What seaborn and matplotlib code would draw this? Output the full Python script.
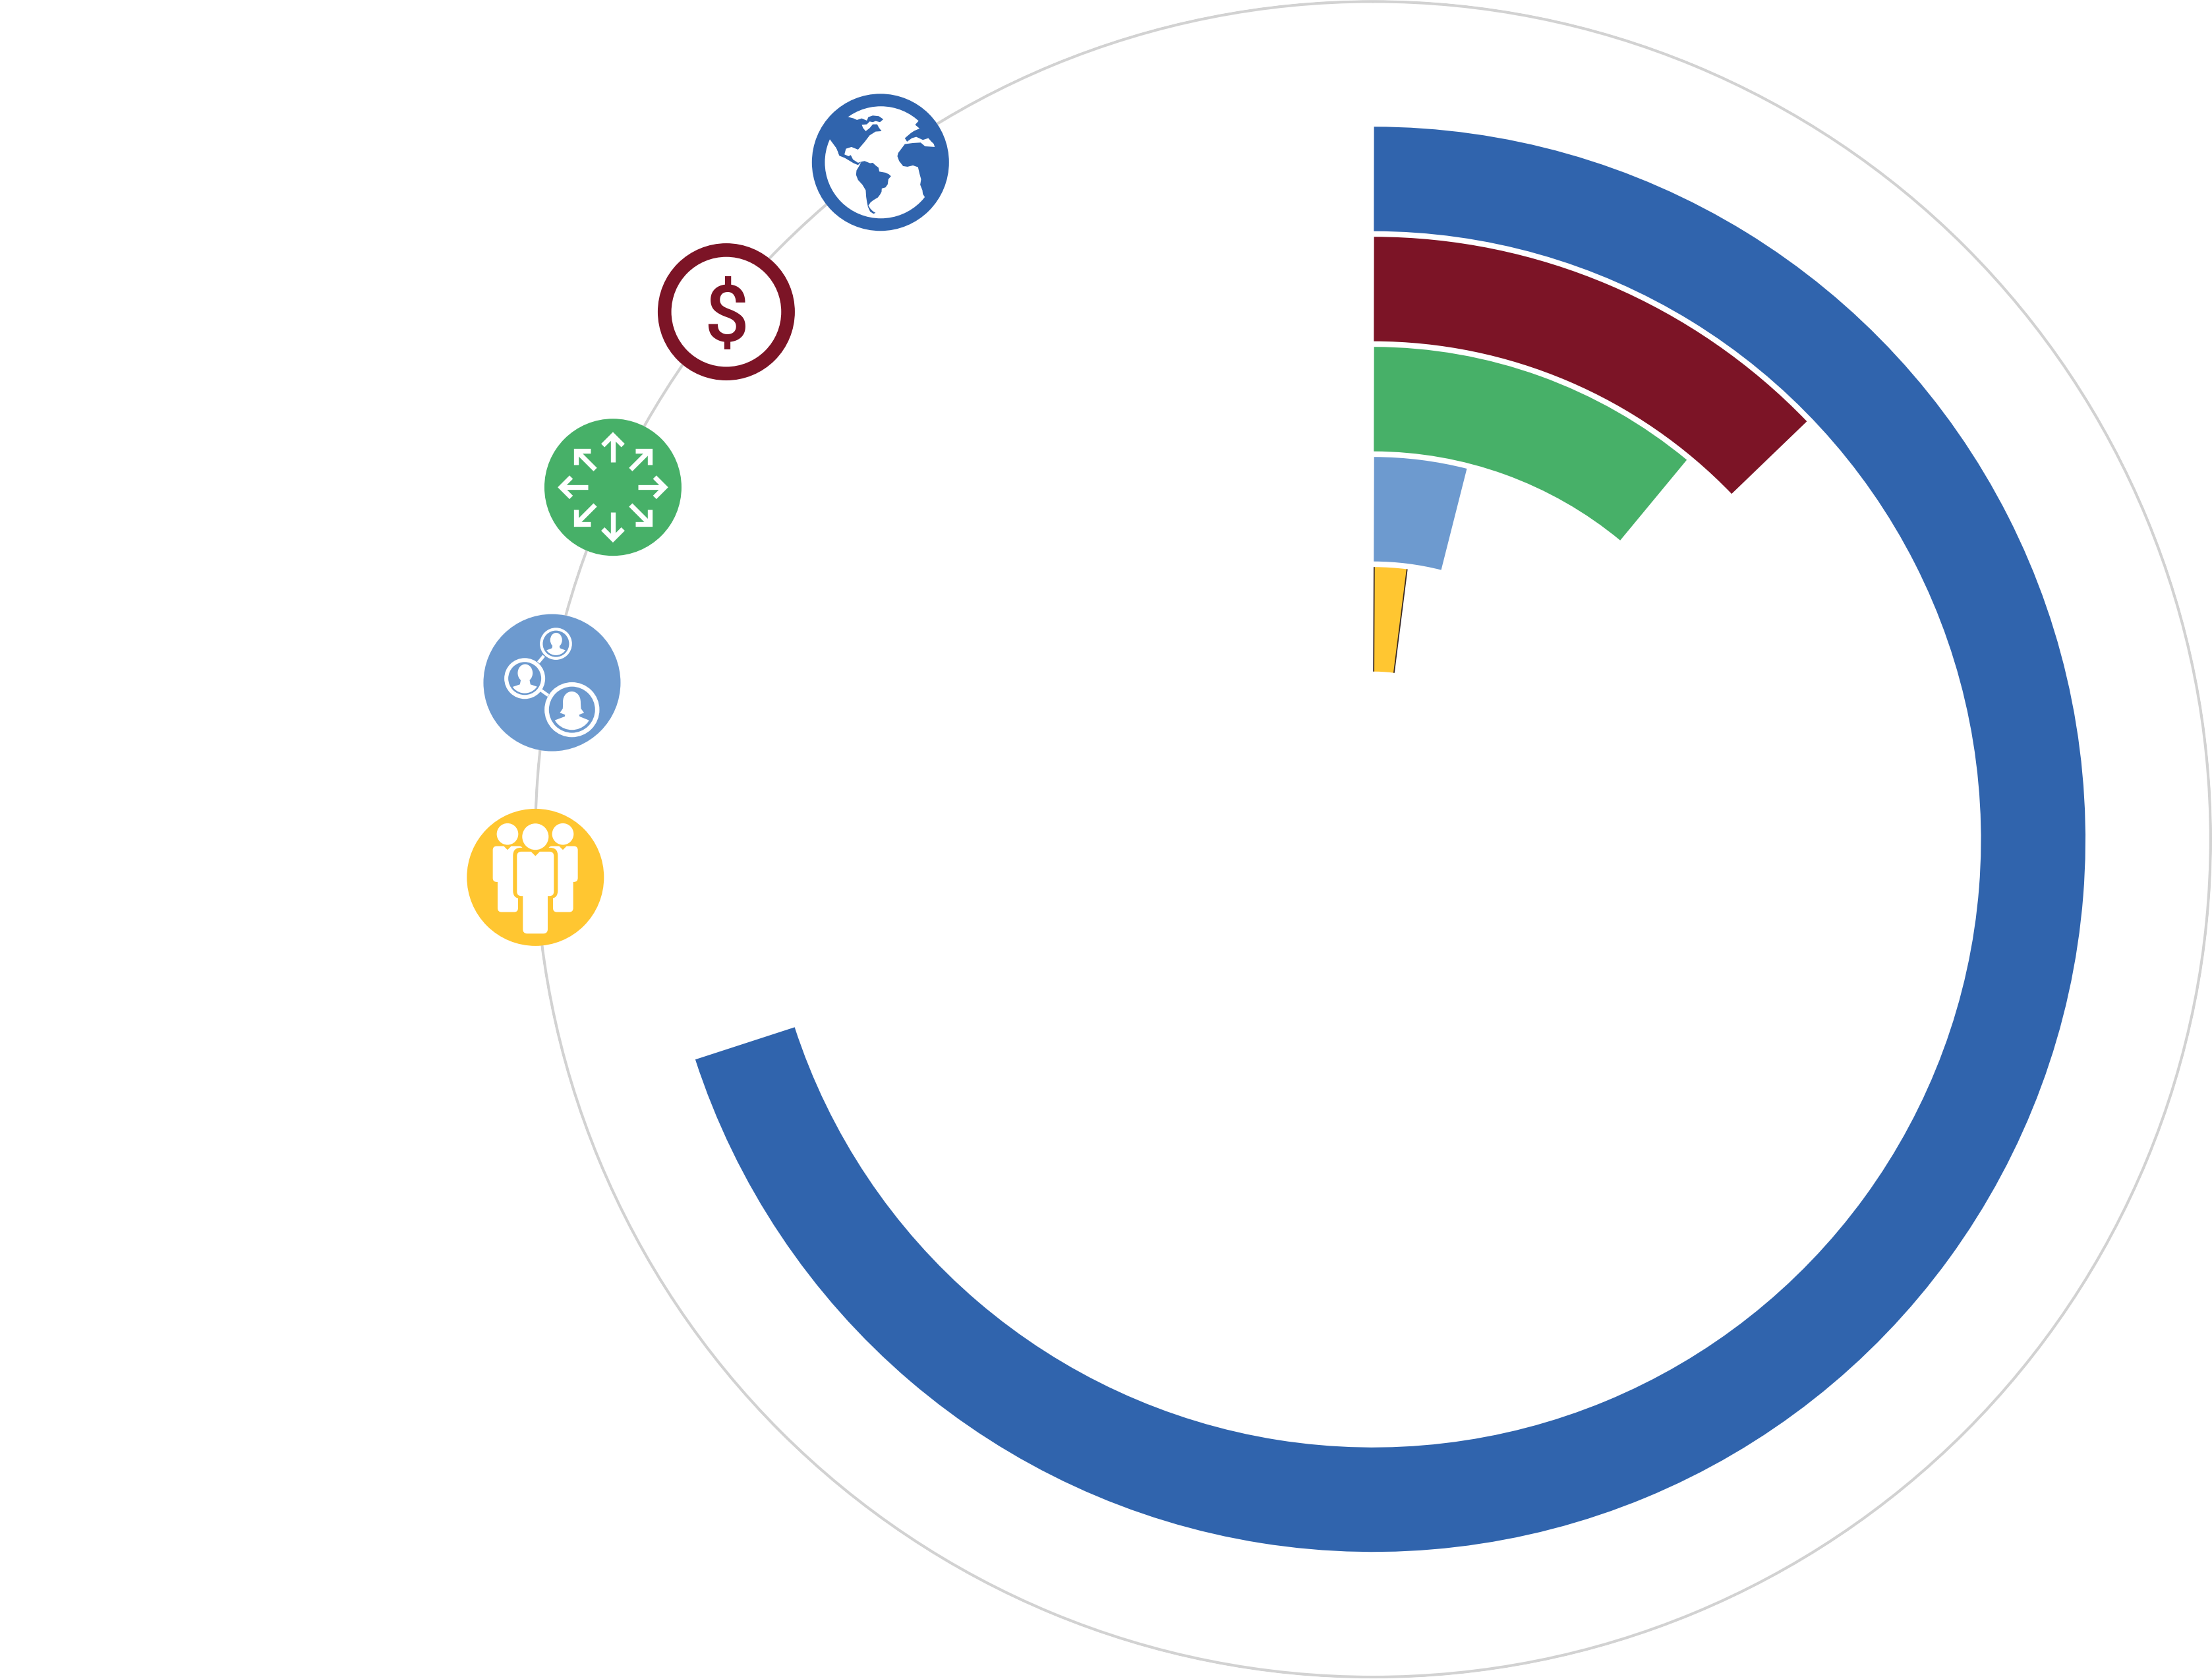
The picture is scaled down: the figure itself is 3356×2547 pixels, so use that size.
import numpy as np
import pandas as pd
import matplotlib.pyplot as plt
import seaborn as sns
from matplotlib.patches import Circle, Ellipse, FancyBboxPatch, Polygon

# -------- Data --------
categories = ["World", "Money", "Growth", "Network", "Team"]
shares = [70.0, 12.8, 11.0, 3.95, 2.0]
outer_radius = [1081, 914, 747, 580, 413]
band_width = 158.5
colors = ["#3064AD", "#7C1426", "#47B068", "#6D9ACF", "#FFC631"]

icon_angle = [323.96, 309.2, 294.85, 280.8, 267.4]
icon_radius = [1270, 1266, 1270.7, 1268, 1272]

W, H = 3356, 2547
DPI = 200
CX, CY = 2083, 1273.2
RMAX = 1273
WHITE = "#FFFFFF"

sns.set_theme(style="white")
plt.rcParams["font.family"] = ["Roboto", "DejaVu Sans"]

fig = plt.figure(figsize=(W / DPI, H / DPI), dpi=DPI, facecolor=WHITE)

# -------- Polar rings --------
ax = fig.add_axes(
    [(CX - RMAX) / W, 1 - (CY + RMAX) / H, 2 * RMAX / W, 2 * RMAX / H],
    projection="polar",
)
ax.set_theta_zero_location("N")
ax.set_theta_direction(-1)
ax.set_ylim(0, RMAX)
ax.spines["polar"].set_visible(False)
ax.set_facecolor("none")
ax.xaxis.grid(False)
ax.set_xticks([])
ax.set_yticks([1271])
ax.set_yticklabels([])
ax.yaxis.grid(True, color="#D2D2D2", linewidth=1.6)

sweep = np.deg2rad(np.array(shares) * 3.6)
for out_r, sw, col in zip(outer_radius, sweep, colors):
    start = 1.5 / (out_r - band_width / 2)  # bands start just right of the vertical
    ax.bar(start, band_width, width=sw - start, bottom=out_r - band_width, align="edge",
           color=col, linewidth=0)

# dark hairlines on the straight sides of the smallest band
for th in (1.5 / (outer_radius[-1] - band_width / 2), sweep[-1]):
    ax.plot([th, th], [outer_radius[-1] - band_width, outer_radius[-1]],
            color="#3A2A25", linewidth=0.65, solid_capstyle="butt")

# icon discs
icons = pd.DataFrame({
    "name": categories,
    "theta": np.deg2rad(icon_angle),
    "r": icon_radius,
})
disc_size = (208 * 72 / DPI) ** 2
sns.scatterplot(
    data=icons, x="theta", y="r", hue="name", hue_order=categories,
    palette=colors, s=disc_size, linewidth=0, legend=False, clip_on=False,
    zorder=5, ax=ax,
)
ax.set_xlabel("")
ax.set_ylabel("")

# -------- Icon glyphs --------
ov = fig.add_axes([0, 0, 1, 1], facecolor="none")
ov.set_xlim(0, W)
ov.set_ylim(H, 0)
ov.axis("off")


def icon_center(i):
    disp = ax.transData.transform((icons.theta[i], icons.r[i]))
    return ov.transData.inverted().transform(disp)


class Glyph:
    def __init__(self, i, ref):
        self.c = icon_center(i)
        self.ref = np.array(ref, dtype=float)

    def p(self, pts):
        return (np.atleast_2d(np.array(pts, dtype=float)) - self.ref) / 3 + self.c

    def poly(self, pts, color=WHITE, clip=None):
        patch = Polygon(self.p(pts), closed=True, facecolor=color, edgecolor="none")
        ov.add_patch(patch)
        if clip is not None:
            patch.set_clip_path(Circle(self.p(clip[:2])[0], clip[2] / 3, transform=ov.transData))

    def disc(self, x, y, r, color=WHITE):
        ov.add_patch(Circle(self.p([x, y])[0], r / 3, facecolor=color, edgecolor="none"))

    def oval(self, x, y, rx, ry, color=WHITE):
        ov.add_patch(Ellipse(self.p([x, y])[0], 2 * rx / 3, 2 * ry / 3, facecolor=color, edgecolor="none"))

    def ring(self, x, y, r, width, color=WHITE):
        ov.add_patch(Circle(self.p([x, y])[0], (r - width / 2) / 3, facecolor="none",
                            edgecolor=color, linewidth=width / 3 * 72 / DPI))

    def line(self, pts, width, color=WHITE):
        q = self.p(pts)
        ov.plot(q[:, 0], q[:, 1], color=color, linewidth=width / 3 * 72 / DPI,
                solid_capstyle="butt", solid_joinstyle="miter")

    def box(self, x0, y0, x1, y1, rad, color=WHITE):
        a = self.p([x0, y0])[0]
        ov.add_patch(FancyBboxPatch(a, (x1 - x0) / 3, (y1 - y0) / 3,
                                    boxstyle=f"round,pad=0,rounding_size={rad / 3}",
                                    facecolor=color, edgecolor="none"))


# globe
g = Glyph(0, (407, 378))
land = colors[0]
g.disc(409, 378, 255)
g.poly([(262, 172), (285, 178), (300, 185), (322, 178), (345, 188), (352, 172), (372, 165),
        (400, 168), (420, 182), (405, 195), (385, 190), (372, 195), (358, 192), (345, 205),
        (322, 207), (328, 222), (340, 236), (358, 222), (372, 205), (392, 205), (400, 220),
        (412, 236), (385, 238), (358, 255), (335, 285), (305, 320), (275, 308), (250, 316),
        (243, 342), (262, 350), (272, 345), (282, 365), (305, 380), (320, 375), (305, 390),
        (285, 382), (265, 370), (245, 358), (220, 348), (205, 312), (195, 298), (178, 275),
        (150, 230), (190, 170)], land)
g.poly([(190, 296), (205, 312), (215, 335), (200, 325)], WHITE)
g.poly([(320, 375), (335, 372), (360, 382), (372, 380), (385, 392), (398, 402), (402, 420),
        (430, 425), (445, 432), (455, 441), (443, 455), (440, 478), (430, 492), (413, 497),
        (412, 512), (405, 525), (395, 538), (375, 550), (362, 560), (352, 575), (362, 590),
        (372, 600), (385, 608), (375, 612), (360, 602), (350, 580), (345, 555), (342, 535),
        (340, 505), (325, 480), (305, 458), (296, 435), (298, 415), (310, 395)], land)
g.poly([(580, 190), (565, 207), (585, 224), (560, 235), (545, 245), (518, 268), (528, 284),
        (550, 268), (570, 262), (600, 276), (625, 268), (640, 285), (655, 298), (655, 308),
        (610, 305), (590, 288), (555, 290), (518, 295), (488, 335), (484, 350), (492, 372),
        (510, 395), (530, 398), (555, 392), (578, 400), (585, 430), (592, 455), (588, 480),
        (598, 505), (600, 522), (610, 538), (650, 500), (700, 380), (680, 260), (620, 170)], land)

# dollar
g = Glyph(1, (394, 370))
g.disc(394, 370, 250)
c = g.p([395, 370])[0]
ov.text(c[0], c[1], "$", color=colors[1], fontsize=43, fontweight="medium",
        ha="center", va="center_baseline")

# arrows
g = Glyph(2, (390, 357))
for k in range(8):
    a = k * np.pi / 4
    d = np.array([np.sin(a), -np.cos(a)])
    n = np.array([d[1], -d[0]])
    o = np.array([390, 357])
    tip = o + d * 236
    g.line([o + d * 114, tip - d * 4], 22)
    g.line([tip - d * 46 + n * 46, tip, tip - d * 46 - n * 46], 22)

# network
g = Glyph(3, (382, 377))
g.line([(345, 255), (320, 285)], 14)
g.line([(330, 410), (365, 435)], 14)
g.ring(400, 200, 73, 13)
g.ring(258, 358, 93, 18)
g.ring(473, 500, 125, 20)
g.oval(401, 183, 27, 33)
g.poly([(385, 205), (415, 205), (418, 220), (447, 231), (447, 260), (353, 260), (353, 231),
        (382, 220)], clip=(400, 200, 52))
g.oval(260, 333, 34, 40)
g.poly([(240, 365), (280, 365), (284, 385), (320, 397), (320, 430), (200, 430), (200, 397),
        (236, 385)], clip=(258, 358, 67))
g.oval(472, 462, 40, 45)
g.poly([(433, 462), (512, 462), (514, 495), (528, 514), (505, 523), (508, 531), (550, 548),
        (550, 600), (395, 600), (395, 548), (440, 531), (442, 523), (418, 514), (431, 495)],
       clip=(473, 500, 92))

# team
g = Glyph(4, (367, 395))
yel = colors[4]
g.disc(240, 198, 49)
g.disc(492, 198, 49)
for x0, x1, lx0, lx1 in [(173, 310, 195, 288), (425, 560, 447, 539)]:
    g.box(x0, 253, x1, 416, 18)
    g.box(lx0, 300, lx1, 553, 18)
g.poly([(222, 252), (258, 252), (240, 270)], yel)
g.poly([(474, 252), (510, 252), (492, 270)], yel)
g.box(265, 260, 469, 492, 36, yel)
g.disc(367, 210, 60)
g.box(283, 278, 451, 480, 20)
g.box(310, 400, 423, 651, 20)
g.poly([(345, 276), (389, 276), (367, 298)], yel)

fig.savefig("out.png", dpi=DPI, facecolor=WHITE)
plt.close(fig)
